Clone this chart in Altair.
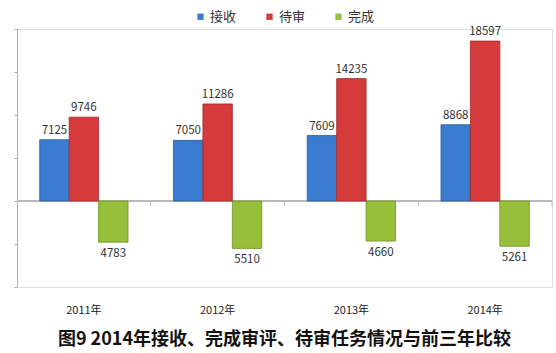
import altair as alt
import pandas as pd

years = ["2011年", "2012年", "2013年", "2014年"]
series = ["接收", "待审", "完成"]
received = [7125, 7050, 7609, 8868]
pending = [9746, 11286, 14235, 18597]
completed = [4783, 5510, 4660, 5261]
colors = ["#3b7bd0", "#d63a3a", "#98bf3a"]
strokes = ["#2a5b9e", "#a52a2a", "#6f8f25"]

rows = []
for i, y in enumerate(years):
    rows.append({"year": y, "series": series[0], "value": received[i], "label": received[i]})
    rows.append({"year": y, "series": series[1], "value": pending[i], "label": pending[i]})
    rows.append({"year": y, "series": series[2], "value": -completed[i], "label": completed[i]})
df = pd.DataFrame(rows)

FONT = "Noto Sans CJK SC"
PAD_IN = 0.34
STEP = 535 / 4

x = alt.X("year:N", sort=years,
          scale=alt.Scale(paddingInner=PAD_IN, paddingOuter=PAD_IN / 2),
          axis=alt.Axis(title=None, domain=False, ticks=False, labelAngle=0,
                        labelPadding=17, labelFontSize=11, labelColor="#222",
                        labelFont=FONT))
xo = alt.XOffset("series:N", sort=series, scale=alt.Scale(paddingInner=0, paddingOuter=0))
y = alt.Y("value:Q", scale=alt.Scale(domain=[-10000, 20000], nice=False),
          axis=alt.Axis(title=None, labels=False, grid=False,
                        values=[-10000, -5000, 0, 5000, 10000, 15000, 20000],
                        tickSize=3, domainColor="#b0b0b0", tickColor="#b0b0b0"))

color = alt.Color("series:N", sort=series,
                  scale=alt.Scale(domain=series, range=colors),
                  legend=alt.Legend(title=None, orient="none", direction="horizontal",
                                    legendX=177, legendY=-19, symbolType="square",
                                    symbolSize=40, symbolStrokeWidth=0,
                                    labelFontSize=13, labelFont=FONT, labelColor="#333",
                                    columnPadding=26, labelOffset=3, padding=0))

bars = alt.Chart(df).mark_bar(strokeWidth=0.8).encode(
    x=x, xOffset=xo, y=y, color=color,
    stroke=alt.Stroke("series:N", sort=series,
                      scale=alt.Scale(domain=series, range=strokes), legend=None),
)

pos_text = alt.Chart(df).transform_filter("datum.value > 0").mark_text(
    baseline="bottom", dy=-4, fontSize=11.5, font=FONT, color="#333"
).encode(x=x, xOffset=xo, y=y, text=alt.Text("label:Q", format="d"))

neg_text = alt.Chart(df).transform_filter("datum.value < 0").mark_text(
    baseline="top", dy=6, fontSize=11.5, font=FONT, color="#333"
).encode(x=x, xOffset=xo, y=y, text=alt.Text("label:Q", format="d"))

zero = alt.Chart(df).mark_rule(color="#b8b8b8", strokeWidth=1).encode(
    y=alt.datum(0)
)

edge = STEP * PAD_IN / 2
tick_start = pd.DataFrame({"year": years[1:]})
tick_end = pd.DataFrame({"year": years[-1:]})
btick_a = alt.Chart(tick_start).mark_rule(color="#b8b8b8", y2Offset=5, xOffset=-edge).encode(
    x=alt.X("year:N", sort=years, bandPosition=0), y=alt.datum(0), y2=alt.datum(0),
)
btick_b = alt.Chart(tick_end).mark_rule(color="#b8b8b8", y2Offset=5, xOffset=edge).encode(
    x=alt.X("year:N", sort=years, bandPosition=1), y=alt.datum(0), y2=alt.datum(0),
)

chart = alt.layer(zero, bars, pos_text, neg_text, btick_a, btick_b).properties(
    width=535, height=258,
    padding={"left": 17, "top": 29, "right": 4, "bottom": 66},
    autosize=alt.AutoSizeParams(type="none"),
    title=alt.TitleParams("图9 2014年接收、完成审评、待审任务情况与前三年比较",
                          orient="bottom", fontSize=18, font=FONT, fontWeight="bold",
                          color="#111", offset=16, anchor="middle"),
).configure_view(stroke=None).configure(background="white")

chart.save("out.html", embed_options={"renderer": "svg", "actions": False})
